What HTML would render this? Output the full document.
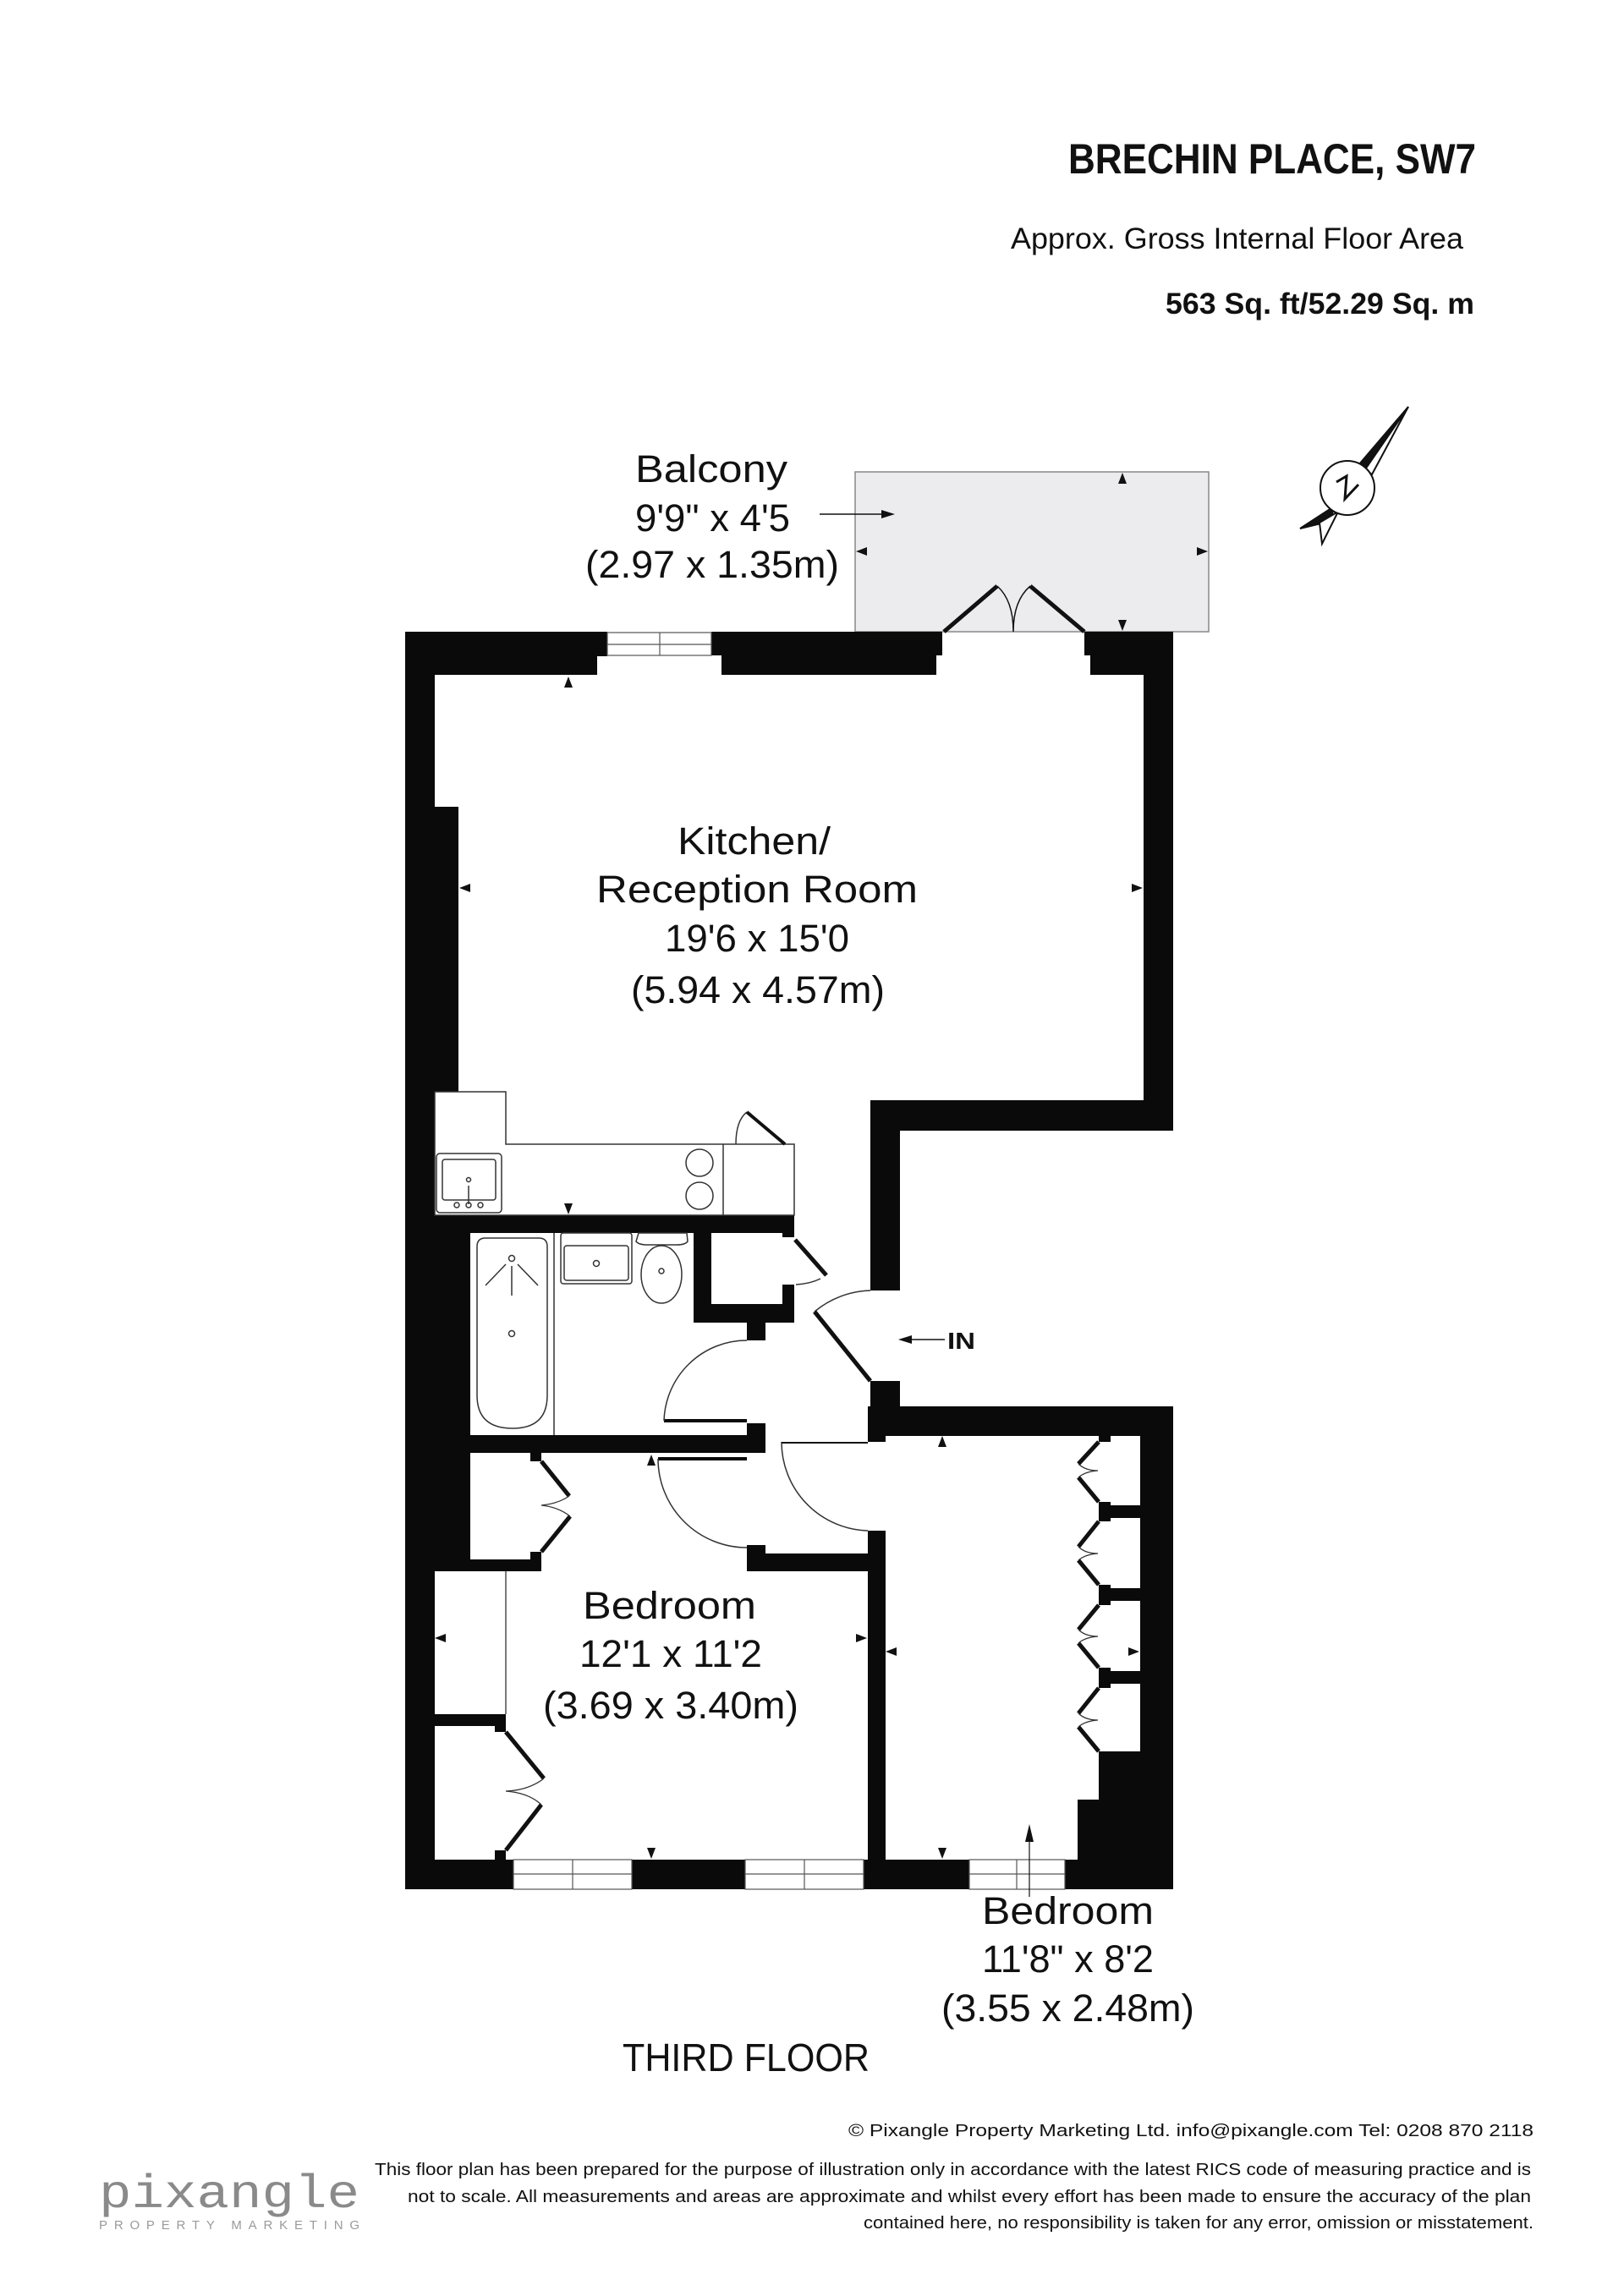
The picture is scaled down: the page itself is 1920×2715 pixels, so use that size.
<!DOCTYPE html>
<html><head><meta charset="utf-8"><style>
html,body{margin:0;padding:0;background:#fff}
svg{display:block}
text{font-family:"Liberation Sans",sans-serif;fill:#111}
</style></head><body>
<svg width="1920" height="2715" viewBox="0 0 1920 2715" xmlns="http://www.w3.org/2000/svg">
<!-- Header -->
<text x="1263" y="205" font-size="50" font-weight="bold" textLength="482" lengthAdjust="spacingAndGlyphs">BRECHIN PLACE, SW7</text>
<text x="1195" y="294" font-size="35" textLength="535" lengthAdjust="spacingAndGlyphs">Approx. Gross Internal Floor Area</text>
<text x="1378" y="371" font-size="35" font-weight="bold" textLength="365" lengthAdjust="spacingAndGlyphs">563 Sq. ft/52.29 Sq. m</text>

<!-- Compass -->
<g stroke="#111" stroke-width="2" fill="none">
<polygon points="1665,481 1606,550 1618,556" fill="#111"/>
<polygon points="1665,481 1622,561 1614,555" fill="#fff"/>
<polygon points="1537,625 1580,597 1570,617" fill="#111"/>
<polygon points="1563,643 1582,605 1560,618" fill="#fff"/>
<circle cx="1593" cy="577" r="32" fill="#fff"/>
<polyline points="1580,570 1592,563 1590,590 1606,573" stroke-width="3"/>
</g>

<!-- Balcony -->
<rect x="1011" y="558" width="418" height="189" fill="#ececee" stroke="#888" stroke-width="1.5"/>
<line x1="969" y1="608" x2="1050" y2="608" stroke="#111" stroke-width="1.5"/>
<polygon points="1058,608 1042,603 1042,613" fill="#111"/>
<polygon points="1327,559 1322,572 1332,572" fill="#111"/>
<polygon points="1327,746 1322,733 1332,733" fill="#111"/>
<polygon points="1012,652 1025,647 1025,657" fill="#111"/>
<polygon points="1428,652 1415,647 1415,657" fill="#111"/>
<g stroke="#111" fill="none">
<line x1="1116" y1="747" x2="1179" y2="693" stroke-width="5"/>
<line x1="1282" y1="747" x2="1218" y2="693" stroke-width="5"/>
<path d="M1179,693 Q1198,710 1198,747 M1218,693 Q1198,710 1198,747" stroke-width="1.5"/>
</g>

<!-- Walls -->
<g fill="#0a0a0b">
<rect x="479" y="747" width="239" height="51"/>
<rect x="841" y="747" width="273" height="28"/>
<rect x="853" y="775" width="254" height="23"/>
<rect x="479" y="747" width="227" height="51"/>
<rect x="1282" y="747" width="105" height="28"/>
<rect x="1289" y="775" width="98" height="23"/>
<rect x="479" y="747" width="35" height="1487"/>
<rect x="514" y="954" width="28" height="337"/>
<rect x="1352" y="747" width="35" height="590"/>
<rect x="1029" y="1301" width="358" height="36"/>
<rect x="1029" y="1301" width="35" height="225"/>
<rect x="1029" y="1633" width="35" height="65"/>
<rect x="479" y="1437" width="460" height="21"/>
<rect x="479" y="1458" width="77" height="400"/>
<rect x="820" y="1458" width="21" height="106"/>
<rect x="820" y="1542" width="119" height="22"/>
<rect x="925" y="1519" width="14" height="23"/>
<rect x="925" y="1458" width="14" height="5"/>
<rect x="883" y="1563" width="22" height="22"/>
<rect x="883" y="1683" width="22" height="35"/>
<rect x="556" y="1697" width="349" height="21"/>
<rect x="785" y="1678" width="98" height="4"/>
<rect x="778" y="1723" width="105" height="4"/>
<rect x="627" y="1718" width="13" height="10"/>
<rect x="627" y="1835" width="13" height="23"/>
<rect x="479" y="1844" width="161" height="14"/>
<rect x="479" y="2027" width="119" height="14"/>
<rect x="585" y="2041" width="13" height="7"/>
<rect x="585" y="2188" width="13" height="11"/>
<rect x="883" y="1837" width="164" height="21"/>
<rect x="883" y="1827" width="22" height="15"/>
<rect x="1029" y="1663" width="358" height="35"/>
<rect x="1026" y="1663" width="21" height="42"/>
<rect x="1026" y="1810" width="21" height="389"/>
<rect x="1348" y="1663" width="39" height="571"/>
<rect x="1299" y="1697" width="14" height="8"/>
<rect x="1299" y="1776" width="14" height="23"/>
<rect x="1313" y="1780" width="35" height="15"/>
<rect x="1299" y="1874" width="14" height="24"/>
<rect x="1313" y="1878" width="35" height="15"/>
<rect x="1299" y="1972" width="14" height="24"/>
<rect x="1313" y="1976" width="35" height="15"/>
<rect x="1299" y="2071" width="88" height="60"/>
<rect x="1274" y="2128" width="113" height="71"/>
<rect x="479" y="2199" width="908" height="35"/>
</g>
<!-- windows -->
<g fill="#fff" stroke="#555" stroke-width="1.2">
<rect x="718" y="748" width="123" height="27"/>
<line x1="718" y1="762" x2="841" y2="762"/>
<line x1="780" y1="748" x2="780" y2="775"/>
<rect x="706" y="776" width="147" height="22" stroke="none"/>
<rect x="607" y="2199" width="140" height="35"/>
<line x1="607" y1="2216" x2="747" y2="2216"/><line x1="677" y1="2199" x2="677" y2="2234"/>
<rect x="881" y="2199" width="140" height="35"/>
<line x1="881" y1="2216" x2="1021" y2="2216"/><line x1="951" y1="2199" x2="951" y2="2234"/>
<rect x="1146" y="2199" width="113" height="35"/>
<line x1="1146" y1="2216" x2="1259" y2="2216"/><line x1="1202" y1="2199" x2="1202" y2="2234"/>
</g>

<!-- Kitchen counter -->
<g fill="none" stroke="#333" stroke-width="1.5">
<path d="M514,1291 H598 V1353 H939 V1437 H514 Z"/>
<line x1="855" y1="1353" x2="855" y2="1437"/>
<circle cx="827" cy="1375" r="16"/>
<circle cx="827" cy="1414" r="16"/>
<rect x="516" y="1364" width="77" height="70" rx="4"/>
<rect x="523" y="1371" width="63" height="48" rx="3"/>
<circle cx="554" cy="1395" r="2.5"/>
<line x1="554" y1="1402" x2="554" y2="1424"/>
<circle cx="540" cy="1425" r="3"/><circle cx="554" cy="1425" r="3"/><circle cx="568" cy="1425" r="3"/>
<path d="M870,1353 Q870,1325 883,1315"/>
</g>
<line x1="883" y1="1315" x2="928" y2="1353" stroke="#111" stroke-width="4"/>

<!-- Bathroom -->
<g fill="none" stroke="#333" stroke-width="1.5">
<line x1="655" y1="1458" x2="655" y2="1697"/>
<path d="M574,1464 H637 Q647,1464 647,1474 V1650 Q647,1689 606,1689 Q564,1689 564,1650 V1474 Q564,1464 574,1464 Z"/>
<circle cx="605" cy="1488" r="3.5"/><circle cx="605" cy="1577" r="3.5"/>
<line x1="605" y1="1497" x2="605" y2="1532"/>
<line x1="598" y1="1495" x2="574" y2="1520"/><line x1="612" y1="1495" x2="636" y2="1520"/>
<rect x="663" y="1458" width="84" height="60" rx="3"/>
<rect x="667" y="1473" width="76" height="41" rx="3"/>
<circle cx="705" cy="1494" r="3.5"/>
<path d="M755,1458 H812 L813,1468 Q810,1472 800,1472 H765 Q755,1472 752,1468 Z"/>
<ellipse cx="782" cy="1507" rx="24" ry="34"/>
<circle cx="782" cy="1503" r="3"/>
<path d="M941,1519 Q958,1518 970,1512"/>
<path d="M785,1680 A98,98 0 0 1 883,1585"/>
<path d="M778,1725 A105,105 0 0 0 883,1830"/>
<path d="M924,1705 A105,105 0 0 0 1026,1810"/>
<path d="M963,1551 A107,107 0 0 1 1029,1526"/>
</g>
<g stroke="#111" stroke-width="5" fill="none">
<line x1="940" y1="1466" x2="977" y2="1508"/>
<line x1="963" y1="1551" x2="1029" y2="1633"/>
<line x1="924" y1="1706" x2="1026" y2="1706" stroke-width="2"/>
<polyline points="640,1728 673,1769"/><polyline points="674,1793 640,1835"/>
<polyline points="598,2048 643,2103"/><polyline points="640,2134 598,2188"/>
<polyline points="1299,1705 1275,1731"/><polyline points="1275,1747 1299,1776"/>
<polyline points="1299,1799 1275,1829"/><polyline points="1275,1845 1299,1874"/>
<polyline points="1299,1898 1275,1927"/><polyline points="1275,1943 1299,1972"/>
<polyline points="1299,1996 1275,2026"/><polyline points="1275,2042 1299,2071"/>
</g>
<g stroke="#333" stroke-width="1.3" fill="none">
<line x1="598" y1="1858" x2="598" y2="2027"/>
<path d="M673,1769 Q660,1778 640,1780 Q660,1782 674,1793"/>
<path d="M643,2103 Q625,2117 598,2118 Q625,2120 640,2134"/>
<path d="M1275,1731 Q1283,1739 1298,1739 Q1283,1740 1275,1747"/>
<path d="M1275,1829 Q1283,1837 1298,1837 Q1283,1838 1275,1845"/>
<path d="M1275,1927 Q1283,1935 1298,1935 Q1283,1936 1275,1943"/>
<path d="M1275,2026 Q1283,2034 1298,2034 Q1283,2035 1275,2042"/>
</g>

<!-- dimension arrows -->
<g fill="#111">
<polygon points="672,800 667,813 677,813"/>
<polygon points="543,1050 556,1045 556,1055"/>
<polygon points="1351,1050 1338,1045 1338,1055"/>
<polygon points="672,1436 667,1423 677,1423"/>
<polygon points="770,1720 765,1733 775,1733"/>
<polygon points="514,1937 527,1932 527,1942"/>
<polygon points="1025,1937 1012,1932 1012,1942"/>
<polygon points="770,2198 765,2185 775,2185"/>
<polygon points="1114,1698 1109,1711 1119,1711"/>
<polygon points="1047,1953 1060,1948 1060,1958"/>
<polygon points="1347,1953 1334,1948 1334,1958"/>
<polygon points="1114,2198 1109,2185 1119,2185"/>
<polygon points="1217,2157 1212,2178 1222,2178"/>
<polygon points="1062,1584 1078,1579 1078,1589"/>
</g>
<line x1="1217" y1="2170" x2="1217" y2="2243" stroke="#111" stroke-width="1.2"/>
<line x1="1075" y1="1584" x2="1117" y2="1584" stroke="#111" stroke-width="1.5"/>
<text x="1120" y="1595" font-size="28" font-weight="bold" textLength="33" lengthAdjust="spacingAndGlyphs">IN</text>

<!-- Room labels -->
<g font-size="45">
<text x="751" y="570" textLength="180" lengthAdjust="spacingAndGlyphs">Balcony</text>
<text x="751" y="628" textLength="183" lengthAdjust="spacingAndGlyphs">9'9" x 4'5</text>
<text x="692" y="683" textLength="300" lengthAdjust="spacingAndGlyphs">(2.97 x 1.35m)</text>
<text x="801" y="1010" textLength="181" lengthAdjust="spacingAndGlyphs">Kitchen/</text>
<text x="705" y="1067" textLength="380" lengthAdjust="spacingAndGlyphs">Reception Room</text>
<text x="786" y="1125" textLength="218" lengthAdjust="spacingAndGlyphs">19'6 x 15'0</text>
<text x="746" y="1186" textLength="300" lengthAdjust="spacingAndGlyphs">(5.94 x 4.57m)</text>
<text x="689" y="1914" textLength="205" lengthAdjust="spacingAndGlyphs">Bedroom</text>
<text x="685" y="1971" textLength="216" lengthAdjust="spacingAndGlyphs">12'1 x 11'2</text>
<text x="642" y="2032" textLength="302" lengthAdjust="spacingAndGlyphs">(3.69 x 3.40m)</text>
<text x="1161" y="2275" textLength="203" lengthAdjust="spacingAndGlyphs">Bedroom</text>
<text x="1161" y="2332" textLength="203" lengthAdjust="spacingAndGlyphs">11'8" x 8'2</text>
<text x="1113" y="2390" textLength="299" lengthAdjust="spacingAndGlyphs">(3.55 x 2.48m)</text>
<text x="736" y="2449" font-size="46" textLength="292" lengthAdjust="spacingAndGlyphs">THIRD FLOOR</text>
</g>

<!-- Footer -->
<g font-size="20">
<text x="1003" y="2526" textLength="810" lengthAdjust="spacingAndGlyphs">© Pixangle Property Marketing Ltd. info@pixangle.com Tel: 0208 870 2118</text>
<text x="443" y="2572" textLength="1367" lengthAdjust="spacingAndGlyphs">This floor plan has been prepared for the purpose of illustration only in accordance with the latest RICS code of measuring practice and is</text>
<text x="482" y="2604" textLength="1328" lengthAdjust="spacingAndGlyphs">not to scale. All measurements and areas are approximate and whilst every effort has been made to ensure the accuracy of the plan</text>
<text x="1021" y="2635" textLength="792" lengthAdjust="spacingAndGlyphs">contained here, no responsibility is taken for any error, omission or misstatement.</text>
</g>
<text x="117" y="2610" font-size="56" style="fill:#8a8a8a;font-family:'Liberation Mono',monospace" textLength="308" lengthAdjust="spacingAndGlyphs">pixangle</text>
<text x="117" y="2636" font-size="15" style="fill:#9a9a9a" textLength="308" lengthAdjust="spacing">PROPERTY MARKETING</text>
</svg>
</body></html>
